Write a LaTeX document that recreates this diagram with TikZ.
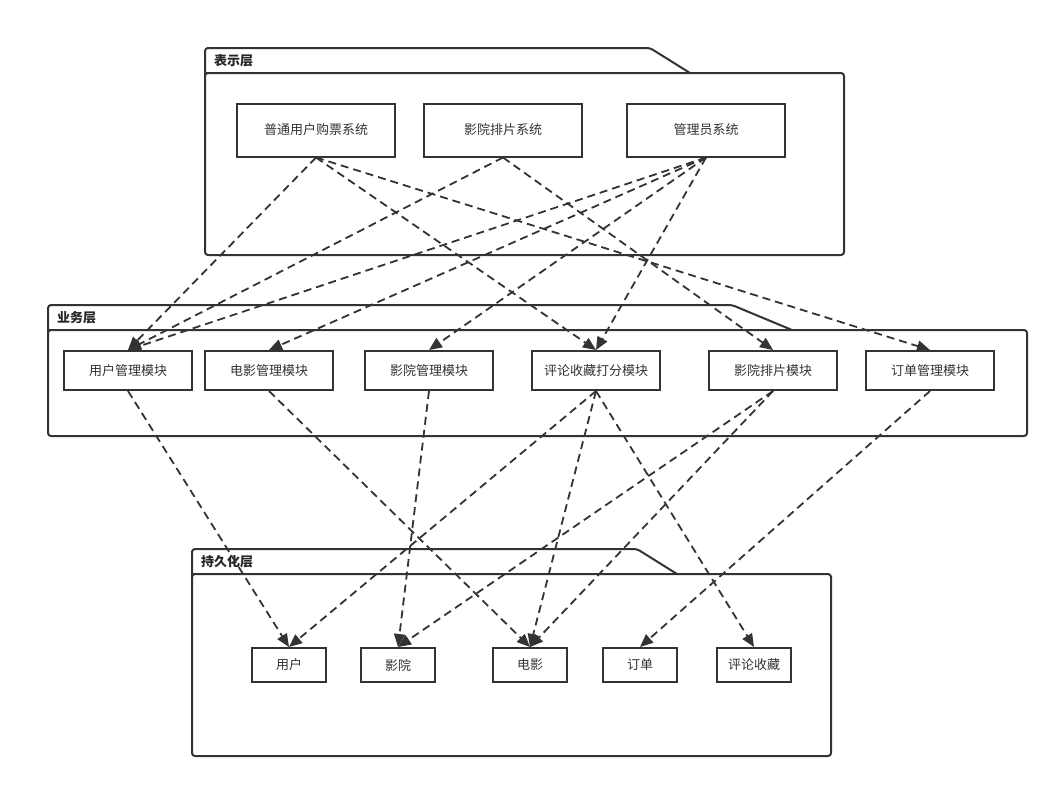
\documentclass[tikz,border=0pt]{standalone}
\usepackage{fontspec}
\newfontfamily\cjk{Noto Sans CJK SC}
\usetikzlibrary{arrows.meta}
\definecolor{dark}{HTML}{333333}
\begin{document}
\begin{tikzpicture}[x=1pt,y=-1pt,
  pkg/.style={draw=dark, line width=2pt, rounded corners=3pt},
  pkgcorner/.style={draw=dark, line width=2pt, line join=miter},
  pkgbody/.style={draw=dark, line width=2pt, rounded corners=3pt, inner sep=0pt, outer sep=0pt},
  title/.style={font=\cjk\bfseries\fontsize{13}{15}\selectfont, text=black!85, anchor=west, inner sep=0pt},
  box/.style={draw=dark, line width=2pt, fill=white, inner sep=0pt, font=\cjk\fontsize{13}{15}\selectfont, text=dark},
  topbox/.style={box, minimum width=158pt, minimum height=53pt},
  midbox/.style={box, minimum width=128pt, minimum height=39pt},
  lowbox/.style={box, minimum width=74pt, minimum height=34pt},
  dep/.style={draw=dark, line width=1.8pt, dash pattern=on 8pt off 5pt, -{Triangle[length=13pt,width=11pt]}}
]
\useasboundingbox (0,0) rectangle (1059,788);
\fill[white] (0,0) rectangle (1059,788);

% packages
\node[pkgbody, minimum width=639pt, minimum height=182pt] (p1) at (524.5,164) {};
\draw[pkgcorner] ([xshift=10pt]p1.north west) -- (p1.north west) -- ([yshift=-10pt]p1.north west);
\draw[pkg] (p1.north west) -- (205,48) -- (650,48) -- (690,73);
\node[title] (t1) at (214,61) {表示层};

\node[pkgbody, minimum width=979pt, minimum height=106pt] (p2) at (537.5,383) {};
\draw[pkgcorner] ([xshift=10pt]p2.north west) -- (p2.north west) -- ([yshift=-10pt]p2.north west);
\draw[pkg] (p2.north west) -- (48,305) -- (732,305) -- (792,330);
\node[title] (t2) at (57,318) {业务层};

\node[pkgbody, minimum width=639pt, minimum height=182pt] (p3) at (511.5,665) {};
\draw[pkgcorner] ([xshift=10pt]p3.north west) -- (p3.north west) -- ([yshift=-10pt]p3.north west);
\draw[pkg] (p3.north west) -- (192,549) -- (637,549) -- (677,574);
\node[title] (t3) at (201,562) {持久化层};

% top nodes
\node[topbox] (a1) at (316,130) {普通用户购票系统};
\node[topbox] (a2) at (503,130) {影院排片系统};
\node[topbox] (a3) at (706,130) {管理员系统};

% middle nodes
\node[midbox] (b1) at (128,370.5) {用户管理模块};
\node[midbox] (b2) at (269,370.5) {电影管理模块};
\node[midbox] (b3) at (429,370.5) {影院管理模块};
\node[midbox] (b4) at (596,370.5) {评论收藏打分模块};
\node[midbox] (b5) at (773,370.5) {影院排片模块};
\node[midbox] (b6) at (930,370.5) {订单管理模块};

% bottom nodes
\node[lowbox] (c1) at (289,665) {用户};
\node[lowbox] (c2) at (398,665) {影院};
\node[lowbox] (c3) at (530,665) {电影};
\node[lowbox] (c4) at (640,665) {订单};
\node[lowbox] (c5) at (754,665) {评论收藏};

% top -> middle
\draw[dep] (a1.south) -- (b1.north);
\draw[dep] (a1.south) -- (b4.north);
\draw[dep] (a1.south) -- (b6.north);
\draw[dep] (a2.south) -- (b1.north);
\draw[dep] (a2.south) -- (b5.north);
\draw[dep] (a3.south) -- (b1.north);
\draw[dep] (a3.south) -- (b2.north);
\draw[dep] (a3.south) -- (b3.north);
\draw[dep] (a3.south) -- (b4.north);

% middle -> bottom
\draw[dep] (b1.south) -- (c1.north);
\draw[dep] (b2.south) -- (c3.north);
\draw[dep] (b3.south) -- (c2.north);
\draw[dep] (b4.south) -- (c1.north);
\draw[dep] (b4.south) -- (c3.north);
\draw[dep] (b4.south) -- (c5.north);
\draw[dep] (b5.south) -- (c2.north);
\draw[dep] (b5.south) -- (c3.north);
\draw[dep] (b6.south) -- (c4.north);
\end{tikzpicture}
\end{document}
